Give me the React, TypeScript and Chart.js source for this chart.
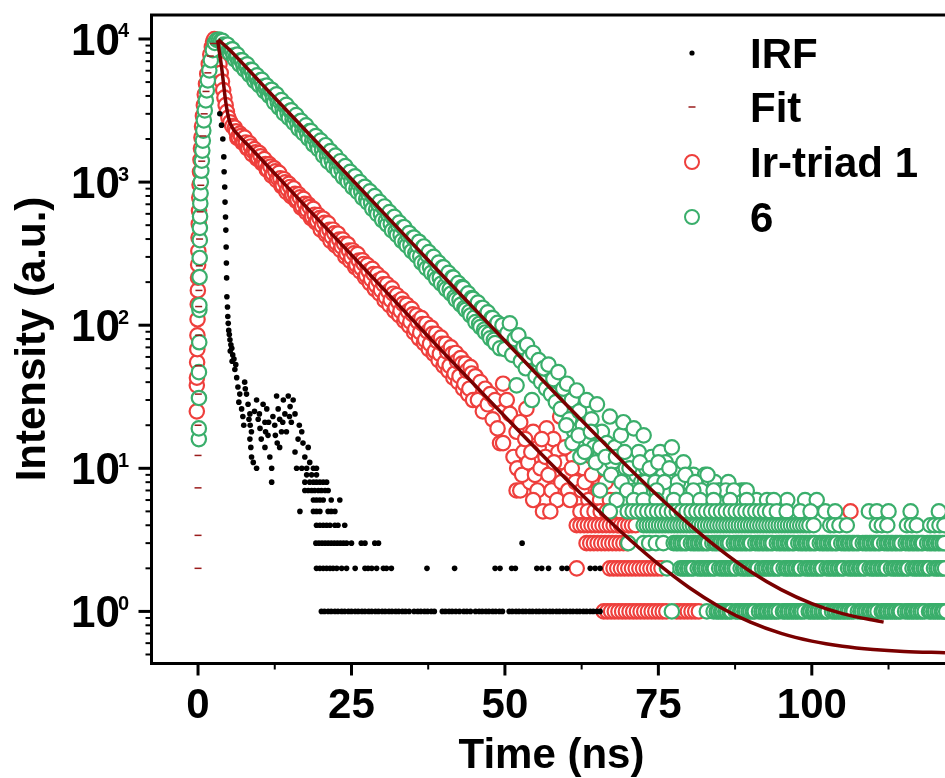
import React, { useEffect, useRef } from 'react';
import { Chart, registerables } from 'chart.js';

Chart.register(...registerables);

// ---------- axes ----------
const X_MIN = -7.5;
const X_MAX = 121.7;
const Y_MIN = 0.436;
const Y_MAX = 14712;
const xMajorTicks = [0, 25, 50, 75, 100];
const xMinorTicks = [12.5, 37.5, 62.5, 87.5, 112.5];
const yDecadeExponents = [0, 1, 2, 3, 4];
const xTitle = 'Time (ns)';
const yTitle = 'Intensity (a.u.)';
const legendLabels = ['IRF', 'Fit', 'Ir-triad 1', '6'];

// ---------- colours ----------
const RED = '#ee3f3c';
const GREEN = '#3aae6b';
const FIT = '#7a0000';
const FIT_MARK = '#9a1c1c';
const FONT = '"Liberation Sans", Arial, Helvetica, sans-serif';

// ---------- IRF (black dots) ----------
const irfDecay: [number, number][] = [
  [3.55, 3000], [3.83, 2500], [4.04, 2000], [4.2, 1500], [4.25, 1180], [4.35, 925], [4.4, 725], [4.48, 570],
  [4.53, 462], [4.58, 352], [4.62, 272], [4.66, 214], [4.7, 158], [4.8, 134], [4.85, 115], [4.92, 103],
  [5.0, 92], [5.1, 86], [5.2, 79], [5.35, 73], [5.25, 66], [5.5, 69], [5.65, 62], [5.55, 56], [5.85, 58],
  [6.0, 49], [6.15, 53], [6.3, 43], [6.5, 37], [6.8, 33], [6.65, 29], [7.1, 26], [7.3, 23], [7.45, 20],
  [7.6, 40], [7.7, 36], [7.9, 33], [8.15, 28], [8.3, 22], [8.45, 24], [8.5, 20], [8.7, 18], [8.45, 16],
  [8.6, 14], [8.72, 12], [9.0, 11], [9.54, 30], [9.8, 22], [10.1, 19], [10.3, 16], [10.6, 28], [10.9, 21],
  [10.9, 14], [11.2, 26], [11.4, 17], [11.7, 12], [11.5, 21], [12.0, 8], [12.2, 23], [12.5, 20], [12.8, 32],
  [12.9, 15], [13.06, 26], [13.3, 22], [13.3, 14], [13.6, 18], [13.9, 30], [14.15, 24], [14.4, 18], [14.7, 32],
  [15.0, 27], [15.2, 21], [15.5, 30], [15.8, 24], [15.8, 13], [16.3, 16], [16.9, 18], [17.1, 15], [17.4, 12],
  [17.95, 14], [18.2, 11], [9.2, 25], [10.0, 24], [11.0, 18], [12.6, 17], [13.8, 21], [14.9, 23], [16.5, 20],
];
const irfTimesCount10 = [9.54, 12.0, 16.06, 16.9, 17.7, 18.8, 19.3];
const irfTimesCount9 = [17.7, 18.5, 19.3];
const irfTimesCount8 = [17.4, 18.2, 18.8, 19.3, 19.85, 20.4, 20.95];
const irfTimesCount7 = [17.4, 17.95, 18.5, 19.0, 19.6, 20.1, 20.7, 21.2];
const irfTimesCount6 = [18.8, 19.3, 19.85, 20.4, 21.7, 23.1];
const irfTimesCount5 = [16.6, 18.8, 19.3, 19.85, 21.2, 21.7, 22.3];
const irfTimesCount4 = [19.3, 19.85, 20.4, 20.95, 21.5, 22.3, 22.8, 23.9];
const irfTimesCount3 = [19.2, 19.7, 20.2, 20.7, 21.2, 21.7, 22.2, 22.7, 23.2, 23.7, 24.2, 25.0, 26.6, 27.2, 28.8, 29.4, 52.8];
const irfTimesCount2 = [19.3, 19.85, 20.4, 20.95, 21.5, 22.0, 22.6, 23.4, 24.2, 25.6, 27.2, 27.7, 28.3, 29.1, 30.2, 30.7,
  31.5, 37.3, 41.8, 48.4, 49.2, 51.1, 51.7, 55.2, 56.0, 57.1, 59.3, 60.1, 63.9, 64.7, 65.5];
const irfTimesCount1 = [20.1, 20.6, 21.2, 21.7, 22.3, 22.8, 23.4, 23.9, 24.5, 25.0, 25.6, 26.1, 26.7, 27.2, 27.8, 28.3,
  28.9, 29.4, 30.0, 30.5, 31.1, 31.6, 32.2, 32.7, 33.3, 33.8, 34.4, 35.2, 35.8, 36.3, 36.9, 37.4, 38.0, 38.5, 39.8,
  40.3, 40.9, 41.4, 42.0, 42.6, 43.3, 43.8, 44.4, 45.2, 45.8, 46.3, 46.9, 47.4, 48.0, 48.5, 49.1, 49.6, 50.7, 51.2,
  51.8, 52.3, 52.9, 53.4, 54.0, 54.5, 55.1, 55.6, 56.2, 56.7, 57.3, 57.8, 58.4, 58.9, 59.5, 60.0, 60.6, 61.1, 61.7,
  62.2, 62.8, 63.3, 63.9, 64.4, 65.0, 65.5];

// ---------- Ir-triad 1 (red circles) ----------
const redRise: [number, number][] = [
  [-0.2, 25], [-0.2, 38], [-0.18, 43], [-0.15, 55], [-0.12, 68], [-0.1, 85], [-0.08, 110], [-0.05, 140],
  [-0.03, 175], [0.0, 215], [0.02, 265], [0.05, 330], [0.08, 410], [0.12, 510], [0.16, 630], [0.2, 780],
  [0.25, 960], [0.32, 1180], [0.4, 1430], [0.48, 1720], [0.56, 2050], [0.65, 2450], [0.8, 2900], [0.95, 3450],
  [1.1, 4100], [1.3, 4850], [1.5, 5700], [1.75, 6700], [2.0, 7800], [2.25, 8800], [2.45, 9600], [2.65, 10000],
  [2.9, 9600], [3.1, 8700], [3.3, 7700], [3.5, 6700], [3.7, 5800], [3.9, 5050], [4.1, 4400], [4.3, 3900],
  [4.5, 3450], [4.7, 3100], [4.95, 2820], [5.25, 2620], [5.6, 2460],
];
const redDecay: [number, number][] = [
  [6.0, 2400], [6.4, 2040], [6.8, 2185], [7.2, 1895], [7.6, 2048], [8.0, 1726], [8.4, 1866], [8.8, 1570],
  [9.2, 1700], [9.6, 1460], [10.0, 1593], [10.4, 1356], [10.8, 1450], [11.2, 1220], [11.6, 1335], [12.0, 1110],
  [12.4, 1250], [12.8, 1032], [13.2, 1160], [13.6, 939], [14.0, 1048], [14.4, 854], [14.8, 972], [15.2, 794],
  [15.6, 903], [16.0, 738], [16.4, 822], [16.8, 664], [17.2, 763], [17.6, 617], [18.0, 696], [18.4, 561],
  [18.8, 651], [19.2, 523], [19.6, 588], [20.0, 465], [20.4, 555], [20.8, 432], [21.2, 515], [21.6, 388],
  [22.0, 465], [22.4, 361], [22.8, 436], [23.2, 336], [23.6, 397], [24.0, 302], [24.4, 368], [24.8, 281],
  [25.2, 333], [25.6, 255], [26.0, 314], [26.4, 238], [26.8, 284], [27.2, 216], [27.6, 263], [28.0, 197],
  [28.4, 248], [28.8, 179], [29.2, 227], [29.6, 166], [30.0, 212], [30.4, 149], [30.8, 193], [31.2, 138],
  [31.6, 181], [32.0, 126], [32.4, 162], [32.8, 117], [33.2, 152], [33.6, 107], [34.0, 139], [34.4, 99],
  [34.8, 130], [35.2, 89], [35.6, 117], [36.0, 81], [36.4, 112], [36.8, 75], [37.2, 102], [37.6, 68],
  [38.0, 96], [38.4, 63], [38.8, 87], [39.2, 57], [39.6, 82], [40.0, 52], [40.4, 74], [40.8, 48],
  [41.2, 70], [41.6, 43], [42.0, 64], [42.4, 40], [42.8, 59], [43.2, 36], [43.6, 54], [44.0, 33],
  [44.4, 51], [44.8, 30],
];
const redDecayFill: [number, number][] = [
  [6.2, 2262], [6.6, 2060], [7.0, 2097], [7.4, 1914], [7.8, 1893], [8.2, 1725], [8.6, 1775], [9.0, 1636],
  [9.4, 1617], [9.8, 1475], [10.2, 1516], [10.6, 1369], [11.0, 1339], [11.4, 1220], [11.8, 1282], [12.2, 1146],
  [12.6, 1190], [13.0, 1065], [13.4, 1063], [13.8, 950], [14.2, 996], [14.6, 891], [15.0, 925], [15.4, 811],
  [15.8, 827], [16.2, 754], [16.6, 782], [17.0, 679], [17.4, 706], [17.8, 637], [18.2, 668], [18.6, 574],
  [19.0, 592], [19.4, 534], [19.8, 560], [20.2, 496], [20.6, 519], [21.0, 447], [21.4, 464], [21.8, 415],
  [22.2, 439], [22.6, 373], [23.0, 396], [23.4, 354], [23.8, 371], [24.2, 316], [24.6, 332], [25.0, 297],
  [25.4, 318], [25.8, 264], [26.2, 283], [26.6, 251], [27.0, 268], [27.4, 223], [27.8, 239], [28.2, 210],
  [28.6, 228], [29.0, 190], [29.4, 205], [29.8, 176], [30.2, 193], [30.6, 157], [31.0, 172], [31.4, 150],
  [31.8, 166], [32.2, 133], [32.6, 146], [33.0, 126], [33.4, 141], [33.8, 112], [34.2, 125], [34.6, 106],
  [35.0, 119], [35.4, 94], [35.8, 106], [36.2, 89], [36.6, 102], [37.0, 79], [37.4, 90], [37.8, 74],
  [38.2, 87], [38.6, 66], [39.0, 77], [39.4, 63], [39.8, 74], [40.2, 55], [40.6, 65], [41.0, 52],
  [41.4, 63], [41.8, 46], [42.2, 56], [42.6, 44], [43.0, 54], [43.4, 39], [43.8, 48], [44.2, 36], [44.6, 46],
];
const redCloud: [number, number][] = [
  [45.2, 44], [45.6, 30], [46.0, 40], [46.4, 25], [46.8, 36], [47.2, 28], [47.6, 33], [48.0, 22], [48.4, 30],
  [48.8, 19], [49.2, 15], [49.7, 39], [49.7, 15], [50.3, 30], [50.8, 24], [51.4, 12], [51.9, 18], [51.9, 7],
  [52.5, 7], [52.5, 21], [53.0, 13], [53.5, 26], [54.1, 8], [54.6, 18], [55.0, 11], [55.5, 14], [56.3, 8],
  [56.8, 19], [57.9, 16], [58.3, 9], [58.7, 13], [59.0, 23], [59.5, 11], [60.1, 9], [61.2, 12], [62.8, 10],
  [63.9, 7], [65.0, 9], [65.5, 8], [65.5, 12], [67.7, 7],
  [52.0, 10], [52.8, 9], [53.3, 16], [53.8, 11], [54.3, 13], [54.9, 9], [55.3, 7], [55.8, 10], [56.0, 16],
  [56.6, 12], [57.1, 9], [57.6, 7], [58.0, 11], [58.5, 6], [59.2, 8], [59.8, 14], [60.3, 7], [60.9, 10],
  [61.5, 8], [61.9, 6], [62.5, 7], [63.0, 8], [63.6, 6], [64.2, 9], [64.8, 5], [65.2, 7], [66.0, 6], [66.4, 8],
  [67.3, 5], [68.0, 6], [68.5, 4], [69.5, 5], [70.2, 4],
];
const redTimesCount6 = [54.6, 60.6, 65.5, 67.1, 69.9];
const redTimesCount5 = [56.2, 57.4, 62.3, 63.5, 64.6, 65.6, 66.6, 67.8, 68.8, 106.3];
const redTimesCount4 = [61.7, 62.3, 62.9, 63.5, 64.1, 64.7, 65.3, 65.9, 66.5, 67.1, 67.7, 68.3, 68.9, 69.5, 70.1, 70.7, 71.3];
const redTimesCount3 = [63.3, 63.9, 64.5, 65.1, 65.7, 66.3, 66.9, 67.5, 68.1, 68.7, 69.3, 69.9];
const redTimesCount2 = [61.7, 67.1, 67.7, 68.3, 68.9, 69.5, 70.1, 70.7, 71.3, 71.9, 72.5, 73.1, 73.7, 74.3, 74.9, 75.5];
const redTimesCount1 = [66.1, 66.7, 67.3, 67.9, 68.5, 69.1, 69.7, 70.3, 70.9, 71.5, 72.1, 72.7, 73.3, 73.9, 74.5,
  75.1, 75.7, 76.3, 78.0, 78.6, 79.2, 79.8, 80.4, 81.0, 81.6];

// ---------- 6 (green circles) ----------
const greenRise: [number, number][] = [
  [0.13, 16], [0.13, 19], [0.15, 31], [0.15, 47], [0.2, 76], [0.22, 128], [0.22, 138], [0.25, 217], [0.27, 295],
  [0.29, 393], [0.3, 478], [0.33, 575], [0.37, 710], [0.42, 835], [0.46, 1000], [0.54, 1200], [0.62, 1410],
  [0.7, 1660], [0.78, 1950], [0.86, 2290], [0.95, 2700], [1.1, 3170], [1.27, 3720], [1.43, 4370], [1.6, 5140],
  [1.84, 6040], [2.09, 7100], [2.41, 8350], [2.74, 9400], [3.07, 9850], [3.4, 9900], [3.7, 9700],
];
const greenDecay: [number, number][] = [
  [4.0, 9720], [4.4, 8700], [4.8, 9120], [5.2, 7920], [5.6, 8480], [6.0, 7210], [6.4, 7790], [6.8, 6620],
  [7.2, 7100], [7.6, 6100], [8.0, 6660], [8.4, 5610], [8.8, 6060], [9.2, 5100], [9.6, 5580], [10.0, 4740],
  [10.4, 5180], [10.8, 4320], [11.2, 4720], [11.6, 4010], [12.0, 4420], [12.4, 3610], [12.8, 4110], [13.2, 3320],
  [13.6, 3740], [14.0, 3020], [14.4, 3470], [14.8, 2810], [15.2, 3170], [15.6, 2590], [16.0, 2940], [16.4, 2350],
  [16.8, 2680], [17.2, 2190], [17.6, 2490], [18.0, 2010], [18.4, 2270], [18.8, 1830], [19.2, 2100], [19.6, 1700],
  [20.0, 1950], [20.4, 1530], [20.8, 1810], [21.2, 1390], [21.6, 1650], [22.0, 1295], [22.4, 1530], [22.8, 1190],
  [23.2, 1400], [23.6, 1085], [24.0, 1295], [24.4, 1007], [24.8, 1180], [25.2, 917], [25.6, 1097], [26.0, 853],
  [26.4, 999], [26.8, 775], [27.2, 928], [27.6, 722], [28.0, 861], [28.4, 649], [28.8, 798], [29.2, 597],
  [29.6, 728], [30.0, 543], [30.4, 676], [30.8, 505], [31.2, 617], [31.6, 459], [32.0, 572], [32.4, 427],
  [32.8, 522], [33.2, 389], [33.6, 484], [34.0, 361], [34.4, 441], [34.8, 329], [35.2, 409], [35.6, 306],
  [36.0, 383], [36.4, 274], [36.8, 355], [37.2, 250], [37.6, 324], [38.0, 232], [38.4, 300], [38.8, 211],
  [39.2, 274], [39.6, 195], [40.0, 254], [40.4, 179], [40.8, 232], [41.2, 166], [41.6, 215], [42.0, 151],
  [42.4, 197], [42.8, 139], [43.2, 182], [43.6, 128], [44.0, 167], [44.4, 117], [44.8, 153], [45.2, 105],
  [45.6, 144], [46.0, 97], [46.4, 132], [46.8, 89], [47.2, 123], [47.6, 81], [48.0, 112], [48.4, 75],
  [48.8, 104], [49.2, 69],
];
const greenDecayFill: [number, number][] = [
  [4.2, 9150], [4.6, 9040], [5.0, 8250], [5.4, 8410], [5.8, 7670], [6.2, 7590], [6.6, 6900], [7.0, 7110],
  [7.4, 6490], [7.8, 6480], [8.2, 5850], [8.6, 6080], [9.0, 5430], [9.4, 5420], [9.8, 4940], [10.2, 5140],
  [10.6, 4650], [11.0, 4550], [11.4, 4150], [11.8, 4340], [12.2, 3890], [12.6, 4040], [13.0, 3580], [13.4, 3610],
  [13.8, 3220], [14.2, 3380], [14.6, 3020], [15.0, 3140], [15.4, 2750], [15.8, 2810], [16.2, 2560], [16.6, 2650],
  [17.0, 2300], [17.4, 2400], [17.8, 2170], [18.2, 2270], [18.6, 1950], [19.0, 2010], [19.4, 1810], [19.8, 1900],
  [20.2, 1685], [20.6, 1770], [21.0, 1520], [21.4, 1580], [21.8, 1410], [22.2, 1490], [22.6, 1270], [23.0, 1350],
  [23.4, 1210], [23.8, 1265], [24.2, 1075], [24.6, 1130], [25.0, 1010], [25.4, 1080], [25.8, 900], [26.2, 965],
  [26.6, 853], [27.0, 912], [27.4, 761], [27.8, 816], [28.2, 715], [28.6, 780], [29.0, 643], [29.4, 697],
  [29.8, 598], [30.2, 660], [30.6, 538], [31.0, 590], [31.4, 512], [31.8, 562], [32.2, 455], [32.6, 499],
  [33.0, 429], [33.4, 482], [33.8, 381], [34.2, 425], [34.6, 363], [35.0, 407], [35.4, 319], [35.8, 360],
  [36.2, 303], [36.6, 349], [37.0, 270], [37.4, 308], [37.8, 254], [38.2, 296], [38.6, 226], [39.0, 262],
  [39.4, 214], [39.8, 253], [40.2, 188], [40.6, 222], [41.0, 178], [41.4, 215], [41.8, 157], [42.2, 191],
  [42.6, 150], [43.0, 185], [43.4, 132], [43.8, 162], [44.2, 124], [44.6, 155], [45.0, 113], [45.4, 139],
  [45.8, 102], [46.2, 132], [46.6, 93], [47.0, 119], [47.4, 87], [47.8, 112], [48.2, 79], [48.6, 101],
];
const greenCloud: [number, number][] = [
  [49.6, 100], [50.0, 68], [50.4, 88], [50.8, 103], [51.2, 62], [51.6, 80], [51.9, 38], [52.2, 85], [52.6, 56],
  [53.0, 70], [53.4, 50], [53.6, 73], [54.0, 60], [54.4, 30], [54.6, 64], [55.0, 44], [55.5, 57], [55.9, 40],
  [56.3, 50], [56.7, 36], [57.1, 53], [57.5, 33], [57.9, 42], [58.3, 29], [58.7, 47], [59.1, 26], [59.5, 36],
  [60.1, 39], [60.5, 22], [60.9, 30], [61.3, 18], [61.7, 35], [62.1, 25], [62.3, 12], [62.7, 20], [63.3, 30],
  [63.7, 16], [64.1, 22], [64.5, 14], [65.0, 28], [65.4, 12], [65.8, 18], [66.2, 10], [66.6, 15], [67.1, 23],
  [67.5, 11], [67.9, 14], [68.5, 9], [68.9, 17], [69.3, 21], [69.7, 10], [70.1, 12], [70.5, 8], [71.0, 19],
  [71.4, 9], [71.8, 13], [72.2, 8], [72.6, 17], [73.0, 10], [73.4, 8], [73.9, 12], [74.3, 9], [75.3, 13],
  [75.8, 9], [76.2, 11], [77.2, 14], [77.8, 9], [78.4, 10], [79.1, 11], [79.8, 8], [80.7, 9], [81.5, 8],
  [82.6, 9], [83.4, 8], [84.2, 8], [85.2, 7], [86.4, 8], [87.5, 6], [88.5, 7], [90.5, 6],
  [60.0, 20], [61.0, 15], [62.0, 17], [63.0, 13], [64.0, 18], [64.8, 11], [65.5, 14], [66.4, 12], [67.3, 9],
  [68.1, 12], [69.0, 8], [69.5, 13], [70.3, 10], [71.2, 7], [72.0, 11], [72.8, 8], [73.6, 10], [74.5, 8],
  [75.0, 11], [76.0, 8], [76.8, 10], [78.2, 8], [79.4, 9], [81.0, 8], [82.0, 7], [83.0, 9], [84.8, 7], [86.0, 7],
  [88.0, 6], [89.0, 7], [91.0, 6], [96.0, 6],
];
const greenTimesCount7 = [65.5, 69.9, 72.0, 74.7, 78.0, 80.7, 84.0, 87.3, 89.4];
const greenTimesCount6 = [68.2, 71.0, 72.6, 74.7, 77.5, 79.6, 81.8, 84.0, 86.7, 89.4, 92.7, 93.8, 98.9, 100.8];
const greenTimesCount5 = [67.1, 70.0, 70.8, 71.6, 72.4, 73.2, 74.0, 74.8, 75.6, 76.4, 77.2, 78.0, 78.8, 79.6, 80.4,
  81.2, 82.0, 82.8, 83.6, 84.4, 85.2, 86.0, 86.8, 87.6, 88.4, 89.2, 90.0, 90.8, 91.6, 92.4, 93.2, 94.3, 95.9, 98.1,
  99.8, 102.2, 103.8, 109.3, 110.6, 112.5, 116.1, 120.7];
const greenTimesCount4 = [72.6, 73.1, 73.6, 74.1, 74.6, 75.1, 75.6, 76.1, 76.6, 77.1, 77.6, 78.1, 78.6, 79.1, 79.6,
  80.1, 80.6, 81.1, 81.6, 82.1, 82.6, 83.1, 83.6, 84.1, 84.6, 85.1, 85.6, 86.1, 86.6, 87.1, 87.6, 88.1, 88.6, 89.1,
  89.6, 90.1, 90.6, 91.1, 91.6, 92.1, 92.6, 93.1, 93.6, 94.1, 94.6, 95.1, 95.6, 96.1, 96.6, 97.1, 97.6, 98.1, 98.6,
  99.1, 99.6, 100.3, 103.0, 103.6, 104.5, 105.7, 110.6, 111.4, 112.3, 115.5, 116.3, 117.1, 119.3, 120.0, 120.8, 121.6];
const greenTimesCount3 = [70.1, 72.6, 73.5, 74.6, 75.8, 77.5, 77.9, 78.2, 78.6, 78.9, 79.3, 79.6, 80.3, 80.7, 81.0,
  81.4, 81.7, 82.1, 82.4, 82.8, 83.1, 83.8, 84.2, 84.5, 84.9, 85.2, 85.6, 85.9, 86.3, 86.6, 87.3, 87.7, 88.0, 88.4,
  88.7, 89.1, 89.4, 89.8, 90.1, 90.8, 91.2, 91.5, 91.9, 92.2, 92.6, 92.9, 93.3, 93.6, 94.3, 94.7, 95.0, 95.4, 95.7,
  96.1, 96.4, 96.8, 97.1, 97.8, 98.2, 98.5, 98.9, 99.2, 99.6, 99.9, 100.3, 100.6, 101.3, 101.7, 102.0, 102.4, 102.7,
  103.1, 103.4, 103.8, 104.1, 104.8, 105.2, 105.5, 105.9, 106.2, 106.6, 106.9, 107.3, 107.6, 108.3, 108.7, 109.0,
  109.4, 109.7, 110.1, 110.4, 110.8, 111.1, 111.8, 112.2, 112.5, 112.9, 113.2, 113.6, 113.9, 114.3, 114.6, 115.3,
  115.7, 116.0, 116.4, 116.7, 117.1, 117.4, 117.8, 118.1, 118.8, 119.2, 119.5, 119.9, 120.2, 120.6, 120.9, 121.3, 121.6];
const greenTimesCount2 = [76.4, 78.6, 79.0, 79.3, 79.7, 80.0, 80.4, 80.7, 81.4, 81.8, 82.1, 82.5, 82.8, 83.2, 83.5,
  83.9, 84.2, 84.9, 85.3, 85.6, 86.0, 86.3, 86.7, 87.0, 87.4, 87.7, 88.4, 88.8, 89.1, 89.5, 89.8, 90.2, 90.5, 90.9,
  91.2, 91.9, 92.3, 92.6, 93.0, 93.3, 93.7, 94.0, 94.4, 94.7, 95.4, 95.8, 96.1, 96.5, 96.8, 97.2, 97.5, 97.9, 98.2,
  98.9, 99.3, 99.6, 100.0, 100.3, 100.7, 101.0, 101.4, 101.7, 102.4, 102.8, 103.1, 103.5, 103.8, 104.2, 104.5, 104.9,
  105.2, 105.9, 106.3, 106.6, 107.0, 107.3, 107.7, 108.0, 108.4, 108.7, 109.4, 109.8, 110.1, 110.5, 110.8, 111.2,
  111.5, 111.9, 112.2, 112.9, 113.3, 113.6, 114.0, 114.3, 114.7, 115.0, 115.4, 115.7, 116.4, 116.8, 117.1, 117.5,
  117.8, 118.2, 118.5, 118.9, 119.2, 119.9, 120.3, 120.6, 121.0, 121.3, 121.7];
const greenTimesCount1 = [77.2, 82.9, 84.0, 84.5, 84.8, 85.2, 85.5, 85.9, 86.2, 86.6, 86.9, 87.6, 87.9, 88.3, 88.6,
  89.0, 89.3, 89.7, 90.0, 90.4, 90.7, 91.4, 91.8, 92.1, 92.5, 92.8, 93.2, 93.5, 93.9, 94.2, 94.6, 95.3, 95.6, 96.0,
  96.3, 96.7, 97.0, 97.4, 97.7, 98.1, 98.4, 98.8, 99.5, 99.8, 100.2, 100.5, 100.9, 101.2, 101.6, 101.9, 102.3, 102.6,
  103.3, 103.7, 104.0, 104.4, 104.7, 105.1, 105.4, 105.8, 106.1, 106.5, 106.8, 107.5, 107.9, 108.2, 108.6, 108.9,
  109.3, 109.6, 110.0, 110.3, 110.7, 111.4, 111.7, 112.1, 112.4, 112.8, 113.1, 113.5, 113.8, 114.2, 114.5, 115.2,
  115.6, 115.9, 116.3, 116.6, 117.0, 117.3, 117.7, 118.0, 118.4, 119.1, 119.4, 119.8, 120.1, 120.5, 120.8, 121.2,
  121.5, 121.9];

// ---------- Fit ----------
const fitMarks: [number, number][] = [
  [0, 2.0], [0, 3.4], [0, 7.3], [0, 12.3], [0.0, 20], [0.05, 33], [0.05, 52], [0.1, 85], [0.1, 135], [0.15, 175],
  [0.2, 260], [0.25, 400], [0.35, 620], [0.45, 950], [0.6, 1400], [0.8, 2100], [1.0, 3000], [1.3, 4300],
  [1.6, 5800], [2.0, 7600], [2.5, 9300],
];
const fitRed: [number, number][] = [
  [3.2, 9800], [3.5, 8000], [3.85, 6300], [4.15, 4900], [4.45, 3800], [4.8, 3050], [5.2, 2600], [5.6, 2400],
  [6, 2265], [8, 1837], [10, 1490], [15, 883], [20, 523], [25, 310], [30, 183], [35, 108.5], [40, 64.3],
  [45, 38.5], [50, 23], [55, 13.8], [60, 8.4], [65, 5.18], [70, 3.27], [75, 2.14], [80, 1.47], [85, 1.075],
  [90, 0.841], [95, 0.702], [100, 0.62], [105, 0.571], [110, 0.542], [115, 0.525], [121.7, 0.515],
];
const fitGreen: [number, number][] = [
  [3.3, 9900], [5, 8510], [10, 5050], [15, 2990], [20, 1774], [25, 1052], [30, 624], [35, 370], [40, 219],
  [45, 130.5], [50, 77.8], [55, 46.4], [60, 27.8], [65, 16.8], [70, 10.25], [75, 6.37], [80, 4.07], [85, 2.71],
  [90, 1.9], [95, 1.42], [100, 1.134], [105, 0.965], [111.7, 0.842],
];

const pts = (pairs: [number, number][]) => pairs.map(([x, y]) => ({ x, y }));
const band = (times: number[], level: number) => times.map((x) => ({ x, y: level }));
const byTime = (a: { x: number }, b: { x: number }) => a.x - b.x;

const irfData = [
  ...pts(irfDecay),
  ...band(irfTimesCount10, 10), ...band(irfTimesCount9, 9), ...band(irfTimesCount8, 8), ...band(irfTimesCount7, 7),
  ...band(irfTimesCount6, 6), ...band(irfTimesCount5, 5), ...band(irfTimesCount4, 4), ...band(irfTimesCount3, 3),
  ...band(irfTimesCount2, 2), ...band(irfTimesCount1, 1),
];
const redData = [
  ...pts(redRise), ...[...pts(redDecay), ...pts(redDecayFill)].sort(byTime), ...pts(redCloud),
  ...band(redTimesCount6, 6), ...band(redTimesCount5, 5), ...band(redTimesCount4, 4),
  ...band(redTimesCount3, 3), ...band(redTimesCount2, 2), ...band(redTimesCount1, 1),
];
const greenData = [
  ...pts(greenRise), ...[...pts(greenDecay), ...pts(greenDecayFill)].sort(byTime), ...pts(greenCloud),
  ...band(greenTimesCount7, 7), ...band(greenTimesCount6, 6), ...band(greenTimesCount5, 5),
  ...band(greenTimesCount4, 4), ...band(greenTimesCount3, 3), ...band(greenTimesCount2, 2), ...band(greenTimesCount1, 1),
];

const decorPlugin = {
  id: 'decor',
  afterDraw(chart: any) {
    const { ctx, chartArea: a, scales } = chart;
    const xs = scales.x;
    const ys = scales.y;
    ctx.save();
    ctx.strokeStyle = '#000';
    ctx.fillStyle = '#000';
    ctx.lineCap = 'butt';

    // frame
    ctx.lineWidth = 3;
    ctx.beginPath();
    ctx.moveTo(a.left - 2, a.top);
    ctx.lineTo(a.right + 2, a.top);
    ctx.moveTo(a.left - 0.5, a.top - 1.5);
    ctx.lineTo(a.left - 0.5, a.bottom + 2);
    ctx.moveTo(a.left - 2, a.bottom + 0.5);
    ctx.lineTo(a.right + 2, a.bottom + 0.5);
    ctx.stroke();

    // y ticks
    const lx = a.left - 0.5;
    for (let e = -1; e <= 4; e++) {
      for (let m = 1; m <= 9; m++) {
        const v = m * Math.pow(10, e);
        if (v < Y_MIN || v > Y_MAX) continue;
        const y = ys.getPixelForValue(v);
        const major = m === 1;
        ctx.lineWidth = major ? 3 : 2;
        ctx.beginPath();
        ctx.moveTo(lx, y);
        ctx.lineTo(lx - (major ? 13 : 6), y);
        ctx.stroke();
      }
    }
    // x ticks
    const by = a.bottom + 0.5;
    xMajorTicks.forEach((v) => {
      const x = xs.getPixelForValue(v);
      ctx.lineWidth = 3;
      ctx.beginPath();
      ctx.moveTo(x, by);
      ctx.lineTo(x, by + 12);
      ctx.stroke();
    });
    xMinorTicks.forEach((v) => {
      const x = xs.getPixelForValue(v);
      if (x > a.right) return;
      ctx.lineWidth = 2;
      ctx.beginPath();
      ctx.moveTo(x, by);
      ctx.lineTo(x, by + 6);
      ctx.stroke();
    });

    // x tick labels
    ctx.font = `bold 42px ${FONT}`;
    ctx.textAlign = 'center';
    ctx.textBaseline = 'alphabetic';
    xMajorTicks.forEach((v) => {
      const x = xs.getPixelForValue(v);
      ctx.fillText(String(v), x, 718);
    });

    // y tick labels 10^n
    yDecadeExponents.forEach((e) => {
      const y = ys.getPixelForValue(Math.pow(10, e));
      ctx.font = `bold 44px ${FONT}`;
      ctx.textAlign = 'right';
      ctx.fillText('10', 120, y + 16);
      ctx.font = `bold 20px ${FONT}`;
      ctx.textAlign = 'left';
      ctx.fillText(String(e), 118, y - 1.5);
    });

    // axis titles
    ctx.font = `bold 42px ${FONT}`;
    ctx.textAlign = 'center';
    ctx.fillText(xTitle, (a.left + a.right) / 2 + 3, 768);
    ctx.save();
    ctx.translate(45, 339);
    ctx.rotate(-Math.PI / 2);
    ctx.fillText(yTitle, 0, 0);
    ctx.restore();

    // legend
    const mx = 692;
    const rows = [53, 107, 162, 217];
    ctx.beginPath();
    ctx.arc(mx, rows[0], 2.6, 0, Math.PI * 2);
    ctx.fillStyle = '#000';
    ctx.fill();
    ctx.strokeStyle = FIT_MARK;
    ctx.lineWidth = 1.5;
    ctx.beginPath();
    ctx.moveTo(mx - 3.5, rows[1]);
    ctx.lineTo(mx + 3.5, rows[1]);
    ctx.stroke();
    [[RED, rows[2]], [GREEN, rows[3]]].forEach(([c, y]) => {
      ctx.beginPath();
      ctx.arc(mx, y as number, 7, 0, Math.PI * 2);
      ctx.fillStyle = '#fff';
      ctx.fill();
      ctx.strokeStyle = c as string;
      ctx.lineWidth = 2;
      ctx.stroke();
    });
    ctx.fillStyle = '#000';
    ctx.font = `bold 42px ${FONT}`;
    ctx.textAlign = 'left';
    legendLabels.forEach((t, i) => ctx.fillText(t, 750, rows[i] + 15));
    ctx.restore();
  },
};

export default function App() {
  const ref = useRef<HTMLCanvasElement>(null);
  useEffect(() => {
    if (!ref.current) return;
    const chart = new Chart(ref.current, {
      type: 'scatter',
      data: {
        datasets: [
          {
            label: 'IRF', data: irfData, showLine: false, order: 3,
            pointRadius: 2.8, pointStyle: 'circle', pointBackgroundColor: '#000', pointBorderColor: '#000',
            pointBorderWidth: 0, backgroundColor: '#000', borderColor: '#000',
          },
          {
            label: 'Fit', data: pts(fitMarks), showLine: false, order: 1,
            pointStyle: 'line', pointRadius: 3.5, pointBorderColor: FIT_MARK, borderColor: FIT_MARK,
            pointBorderWidth: 1.5, borderWidth: 1.5,
          },
          {
            label: 'Ir-triad 1', data: redData, showLine: false, order: 4,
            pointRadius: 7.2, pointStyle: 'circle', pointBackgroundColor: '#fff', pointBorderColor: RED,
            pointBorderWidth: 2.2, backgroundColor: '#fff', borderColor: RED,
          },
          {
            label: '6', data: greenData, showLine: false, order: 2,
            pointRadius: 7.2, pointStyle: 'circle', pointBackgroundColor: '#fff', pointBorderColor: GREEN,
            pointBorderWidth: 2.2, backgroundColor: '#fff', borderColor: GREEN,
          },
          {
            label: 'Fit (Ir-triad 1)', data: pts(fitRed), showLine: true, order: 0,
            pointRadius: 0, borderColor: FIT, borderWidth: 3.5, cubicInterpolationMode: 'monotone', fill: false,
          },
          {
            label: 'Fit (6)', data: pts(fitGreen), showLine: true, order: 0,
            pointRadius: 0, borderColor: FIT, borderWidth: 3.5, cubicInterpolationMode: 'monotone', fill: false,
          },
        ] as any,
      },
      options: {
        responsive: false,
        animation: false,
        events: [],
        layout: { autoPadding: false, padding: { left: 152, top: 15, right: 0, bottom: 115 } },
        plugins: { legend: { display: false }, tooltip: { enabled: false }, title: { display: false } },
        scales: {
          x: { type: 'linear', display: false, min: X_MIN, max: X_MAX },
          y: { type: 'logarithmic', display: false, min: Y_MIN, max: Y_MAX },
        },
      } as any,
      plugins: [decorPlugin],
    });
    return () => chart.destroy();
  }, []);
  return (
    <div style={{ position: 'absolute', left: 0, top: 0, width: 945, height: 778, background: '#fff' }}>
      <canvas ref={ref} width={945} height={778} style={{ display: 'block', width: 945, height: 778 }} />
    </div>
  );
}
